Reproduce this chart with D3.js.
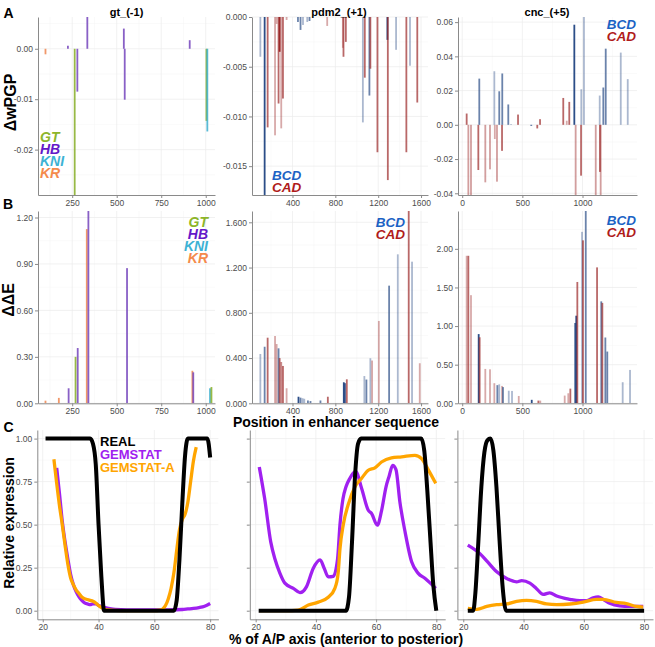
<!DOCTYPE html>
<html><head><meta charset="utf-8">
<script src="https://cdn.jsdelivr.net/npm/d3@7"></script>
<style>body{margin:0;background:#fff} svg{display:block} text{font-family:"Liberation Sans",Arial,sans-serif}</style>
</head><body><svg id="c" width="655" height="647"></svg>
<script>
// ---------------- DATA ----------------
// gt_(-1) : gap-gene factors
const gtWpgpPos = [100, 226, 264, 279, 335, 540, 545, 910, 1004, 1009];
const gtWpgpVal = [-0.0011, 0.0006, -0.0300, -0.0085, 0.0070, 0.0040, -0.0101, 0.0017, -0.0143, -0.0164];
const gtWpgpTF  = ["KR","HB","GT","HB","HB","HB","HB","HB","GT","KNI"];
const gtDdePos = [100, 175, 230, 269, 281, 332, 341, 558, 925, 930, 1024, 1032];
const gtDdeVal = [0.017, 0.035, 0.097, 0.30, 0.357, 1.125, 1.25, 0.873, 0.21, 0.20, 0.097, 0.105];
const gtDdeTF  = ["KR","KR","HB","GT","HB","KR","HB","HB","KR","HB","KNI","GT"];

// pdm2_(+1) : BCD / CAD
const pdmWpgpPos = [100,140,168,237,252,270,280,295,311,345,451,475,498,538,559,724,870,876,898,1057,1075,1118,1127,1193,1286,1290,1367,1463,1497,1565];
const pdmWpgpVal = [-0.0040,-0.0190,-0.0111,-0.0119,-0.0007,-0.0087,-0.0035,-0.0112,-0.0082,-0.0003,-0.0005,-0.0013,-0.0008,-0.0005,-0.0004,-0.0009,-0.0031,-0.0040,-0.0025,-0.0106,-0.0061,-0.0079,-0.0052,-0.0136,-0.0023,-0.0164,-0.0033,-0.0136,-0.0049,-0.0086];
const pdmWpgpTF  = ["BCD","BCD","CAD","CAD","CAD","CAD","CAD","CAD","CAD","CAD","BCD","BCD","BCD","BCD","BCD","CAD","CAD","CAD","CAD","BCD","CAD","BCD","CAD","CAD","BCD","CAD","BCD","CAD","BCD","CAD"];
const pdmWpgpStr = [0.4,1,0.7,0.4,0.4,0.7,1,0.4,0.7,0.4,0.7,0.7,0.4,0.4,0.7,0.4,0.4,0.7,0.7,0.4,0.7,0.7,0.7,0.7,1,0.7,0.4,0.7,0.4,0.7];
const pdmDdePos = [100,140,168,237,252,270,280,295,311,345,456,475,494,510,544,568,661,730,879,889,907,1071,1090,1127,1143,1206,1302,1383,1485,1516,1588];
const pdmDdeVal = [0.436,0.50,0.58,0.595,0.524,0.486,0.40,0.365,0.33,0.133,0.058,0.05,0.045,0.04,0.025,0.02,0.025,0.058,0.186,0.178,0.212,0.241,0.21,0.398,0.378,0.728,1.04,1.317,1.70,1.252,0.354];
const pdmDdeTF  = ["BCD","BCD","CAD","CAD","CAD","BCD","CAD","CAD","CAD","CAD","BCD","BCD","BCD","BCD","BCD","BCD","BCD","CAD","BCD","BCD","CAD","BCD","BCD","BCD","CAD","CAD","BCD","BCD","CAD","BCD","CAD"];
const pdmDdeStr = [0.4,0.7,0.7,0.4,0.4,0.7,0.7,0.55,0.7,0.4,1,0.7,0.4,0.4,0.7,0.7,0.7,0.7,1,1,0.7,0.4,0.7,0.4,0.4,0.4,0.7,0.4,0.7,0.4,0.4];

// cnc_(+5) : BCD / CAD
const cncWpgpPos = [37,51,73,134,142,192,231,267,271,289,308,331,333,383,406,464,574,624,647,840,869,890,932,943,988,990,1012,1110,1143,1145,1151,1173,1193,1318,1376];
const cncWpgpVal = [0.0066,-0.045,-0.045,-0.0264,0.027,-0.0336,-0.026,0.0313,-0.0083,-0.0332,0.0196,-0.0152,0.030,0.0119,0.0004,0.006,-0.0005,-0.0021,0.0033,0.0157,0.0024,0.0134,0.0585,-0.045,-0.0297,0.0208,0.066,-0.045,0.0171,-0.0275,-0.045,0.0218,0.0445,0.0422,0.0267];
const cncWpgpTF  = ["CAD","CAD","CAD","CAD","BCD","CAD","CAD","BCD","CAD","CAD","BCD","CAD","BCD","BCD","BCD","CAD","BCD","CAD","CAD","CAD","CAD","CAD","BCD","CAD","CAD","BCD","BCD","CAD","BCD","CAD","CAD","BCD","BCD","BCD","BCD"];
const cncWpgpStr = [0.7,0.45,0.45,0.7,0.7,0.45,0.45,0.4,0.4,0.45,0.7,0.7,0.7,0.7,0.4,0.7,1,0.7,0.7,0.7,0.4,0.7,1,0.45,0.7,0.4,0.4,0.45,0.4,0.7,0.45,0.7,0.7,0.4,0.4];
const cncDdePos = [37,51,73,137,145,192,231,267,292,308,331,339,387,414,470,578,633,649,852,882,899,940,948,957,996,1004,1027,1121,1156,1165,1190,1206,1334,1395];
const cncDdeVal = [1.91,1.91,1.40,0.896,0.855,0.445,0.44,0.26,0.235,0.245,0.225,0.21,0.163,0.16,0.095,0.045,0.035,0.035,0.10,0.13,0.19,1.04,1.134,1.571,2.22,2.11,2.50,1.76,1.32,1.30,0.852,0.67,0.273,0.432];
const cncDdeTF  = ["CAD","CAD","CAD","BCD","CAD","CAD","CAD","CAD","BCD","BCD","CAD","BCD","BCD","BCD","CAD","BCD","CAD","CAD","CAD","CAD","CAD","BCD","BCD","CAD","BCD","CAD","BCD","CAD","BCD","CAD","BCD","BCD","BCD","BCD"];
const cncDdeStr = [0.4,0.7,0.4,1,0.7,0.4,0.4,0.4,0.7,0.4,0.4,0.7,0.4,0.4,0.4,1,0.7,0.4,0.4,0.4,0.7,1,1,0.7,0.4,0.7,0.7,0.7,0.7,0.7,0.7,0.7,0.4,0.4];

// tick labels
const gtXTicks = [250, 500, 750, 1000];
const pdmXTicks = [400, 800, 1200, 1600];
const cncXTicks = [0, 500, 1000];
const gtWpgpYTicks = [0, -0.01, -0.02];           const gtWpgpYLabels = ["0.00","-0.01","-0.02"];
const pdmWpgpYTicks = [0, -0.005, -0.010, -0.015]; const pdmWpgpYLabels = ["0.000","-0.005","-0.010","-0.015"];
const cncWpgpYTicks = [0.06,0.04,0.02,0,-0.02,-0.04]; const cncWpgpYLabels = ["0.06","0.04","0.02","0.00","-0.02","-0.04"];
const gtDdeYTicks = [0,0.3,0.6,0.9,1.2];           const gtDdeYLabels = ["0.00","0.30","0.60","0.90","1.20"];
const pdmDdeYTicks = [0,0.4,0.8,1.2,1.6];          const pdmDdeYLabels = ["0.000","0.400","0.800","1.200","1.600"];
const cncDdeYTicks = [0,0.5,1,1.5,2];              const cncDdeYLabels = ["0.00","0.50","1.00","1.50","2.00"];
const apXTicks = [20, 40, 60, 80];
const exprYTicks = [0, 0.25, 0.5, 0.75, 1];        const exprYLabels = ["0.00","0.25","0.50","0.75","1.00"];

// expression profiles (% A/P axis, relative expression)
const gtRealX = [21,37,38,39,40,41,42,67,68,69,70,71,72,79,80];
const gtRealY = [1,1,0.97,0.85,0.5,0.2,0,0,0.06,0.3,0.62,0.9,1,1,0.89];
const gtGemX = [25,26,27,28,29,30,31,32,33,34,35,36,37,38,39,40,42,44,46,50,55,60,65,70,72,74,76,78,80];
const gtGemY = [0.83,0.68,0.52,0.4,0.3,0.21,0.15,0.11,0.08,0.06,0.045,0.04,0.035,0.04,0.04,0.03,0.02,0.012,0.007,0.005,0.005,0.005,0.005,0.007,0.01,0.013,0.018,0.026,0.042];
const gtGemAX = [24,25,26,27,28,29,30,31,32,33,34,35,36,37,38,39,40,41,42,44,46,50,55,60,62,63,64,65,66,67,68,69,70,71,72,73,74,75];
const gtGemAY = [0.88,0.74,0.61,0.5,0.38,0.27,0.19,0.15,0.12,0.1,0.08,0.07,0.065,0.06,0.055,0.045,0.03,0.018,0.01,0.004,0.002,0,0,0,0.003,0.01,0.03,0.07,0.13,0.22,0.35,0.47,0.53,0.56,0.63,0.75,0.87,0.95];

const pdmRealX = [21,50,51,52,53,54,55,75,76,77,78,79,80];
const pdmRealY = [0,0,0.08,0.4,0.78,0.97,1,1,0.93,0.7,0.42,0.15,0];
const pdmGemX = [21.2,23,25,26.4,28,29.7,32.5,34.7,36.9,39.1,41.4,42.8,44.1,45.8,47.2,48,49,50,51.3,52.4,53.2,55.2,57.4,58.5,60.4,61.8,63.3,64.3,65.5,66.6,67.9,69.6,71.8,74,76.2,78,79.8];
const pdmGemY = [0.835,0.65,0.40,0.30,0.22,0.16,0.13,0.105,0.14,0.245,0.295,0.245,0.197,0.2,0.3,0.5,0.65,0.72,0.77,0.80,0.81,0.71,0.584,0.565,0.497,0.58,0.72,0.78,0.845,0.82,0.632,0.46,0.284,0.217,0.188,0.16,0.13];
const pdmGemAX = [21.2,30,34.1,37.5,40.8,44.1,46.3,47.4,48,49.1,50.8,53,55.2,57.4,59.6,61.8,65.1,68.5,72.9,75.1,77.3,79.8];
const pdmGemAY = [0,0,0.003,0.033,0.05,0.078,0.13,0.22,0.36,0.50,0.62,0.72,0.77,0.816,0.83,0.864,0.888,0.894,0.903,0.884,0.82,0.74];

const cncRealX = [21.5,23.3,24,25,26,27,28,29,30,31,32,33,34.2,80];
const cncRealY = [0,0,0.1,0.4,0.72,0.92,0.99,1,0.93,0.72,0.42,0.15,0,0];
const cncGemX = [21.5,25.6,28,31.1,34.4,37.7,39.4,42.1,44.3,46.5,48.7,51,55.4,58.7,60.9,63.1,64.8,66.4,68.6,71.9,75.2,79.7];
const cncGemY = [0.381,0.33,0.285,0.226,0.187,0.168,0.175,0.16,0.128,0.095,0.104,0.085,0.066,0.058,0.058,0.075,0.08,0.066,0.043,0.028,0.025,0.025];
const cncGemAX = [21.5,24.5,27.8,31.1,34.4,37.7,41,44.3,47.6,51,55.4,59.8,64.2,66.4,70.8,74.1,77.4,79.7];
const cncGemAY = [0.014,0.008,0.025,0.035,0.039,0.054,0.06,0.054,0.039,0.035,0.039,0.05,0.066,0.066,0.048,0.041,0.025,0.021];

const gapFactors = ["GT","HB","KNI","KR"];
const tfFactors = ["BCD","CAD"];
const exprSeries = ["REAL","GEMSTAT","GEMSTAT-A"];
const enhancerNames = ["gt_(-1)","pdm2_(+1)","cnc_(+5)"];

// ---------------- STYLE ----------------
const GAP_BAR = {GT:"#86AD26", HB:"#7444BC", KNI:"#3CAFCF", KR:"#EE8650"};
const GAP_TXT = {GT:"#8DB52A", HB:"#6418C8", KNI:"#3DB2D4", KR:"#F48A4C"};
const TF_BAR = {BCD:"#2C4E88", CAD:"#9B2828"};
const TF_TXT = {BCD:"#1B62C4", CAD:"#B01B1B"};
const EXPR_COL = {"REAL":"#000000","GEMSTAT":"#A020F0","GEMSTAT-A":"#FFA500"};
const AXIS_COL = "#8a8a8a", TICK_TXT = "#4d4d4d";

const svg = d3.select("#c");
svg.append("rect").attr("width",655).attr("height",647).attr("fill","#fff");
const defs = svg.append("defs");

function minors(ticks, dom) {
  const lo = Math.min(...dom), hi = Math.max(...dom);
  const s = [...ticks].sort((a,b)=>a-b);
  const step = s[1]-s[0];
  const out = [];
  for (let v = s[0]-step/2; v <= s[s.length-1]+step/2 + 1e-9; v += step) if (v>=lo && v<=hi) out.push(v);
  return out;
}

let clipN = 0;
function frame(p) {
  const g = svg.append("g");
  const xs = d3.scaleLinear().domain(p.xdom).range([p.x0,p.x1]);
  const ys = d3.scaleLinear().domain(p.ydom).range([p.y1,p.y0]);
  const gx = minors(p.xt, p.xdom), gy = minors(p.yt, p.ydom);
  g.selectAll(null).data(gx).join("line").attr("x1",d=>xs(d)).attr("x2",d=>xs(d)).attr("y1",p.y0).attr("y2",p.y1).attr("stroke","#f4f4f4").attr("stroke-width",0.5);
  g.selectAll(null).data(gy).join("line").attr("y1",d=>ys(d)).attr("y2",d=>ys(d)).attr("x1",p.x0).attr("x2",p.x1).attr("stroke","#f4f4f4").attr("stroke-width",0.5);
  g.selectAll(null).data(p.xt).join("line").attr("x1",d=>xs(d)).attr("x2",d=>xs(d)).attr("y1",p.y0).attr("y2",p.y1).attr("stroke","#ebebeb").attr("stroke-width",0.7);
  g.selectAll(null).data(p.yt).join("line").attr("y1",d=>ys(d)).attr("y2",d=>ys(d)).attr("x1",p.x0).attr("x2",p.x1).attr("stroke","#ebebeb").attr("stroke-width",0.7);
  const id = "clip"+(clipN++);
  defs.append("clipPath").attr("id",id).append("rect").attr("x",p.x0).attr("y",p.y0).attr("width",p.x1-p.x0).attr("height",p.y1-p.y0);
  const plot = svg.append("g").attr("clip-path",`url(#${id})`);
  const drawAxes = () => {
    const ax = svg.append("g").attr("transform",`translate(0,${p.y1})`)
      .call(d3.axisBottom(xs).tickValues(p.xt).tickFormat(d3.format("d")).tickSize(3).tickSizeOuter(0).tickPadding(1.5));
    const ay = svg.append("g").attr("transform",`translate(${p.x0},0)`)
      .call(d3.axisLeft(ys).tickValues(p.yt).tickFormat((d,i)=>p.yl ? p.yl[i] : "").tickSize(3).tickSizeOuter(0).tickPadding(2));
    [ax,ay].forEach(a=>{
      a.select(".domain").attr("stroke",AXIS_COL).attr("stroke-width",1);
      a.selectAll(".tick line").attr("stroke",AXIS_COL);
      a.selectAll(".tick text").attr("fill",TICK_TXT).style("font-size","8.5px").style("font-family",'"Liberation Sans",Arial,sans-serif');
    });
  };
  return {xs, ys, plot, drawAxes};
}

function bars(p, pos, val, fac, str, colorOf) {
  const f = frame(p);
  const data = pos.map((x,i)=>({x, v:val[i], f:fac[i], s: str ? str[i] : 0.85}));
  f.plot.selectAll(null).data(data).join("rect")
    .attr("x",d=>f.xs(d.x)-0.9).attr("width",1.8)
    .attr("y",d=>Math.min(f.ys(0),f.ys(d.v))).attr("height",d=>Math.abs(f.ys(d.v)-f.ys(0)))
    .attr("fill",d=>colorOf[d.f]).attr("fill-opacity",d=>d.s);
  f.drawAxes();
  return f;
}

// layout
const colAB = [[38,215],[252,428],[458,637]];
const rowA = [17,195], rowB = [211,403.3];
const xdomAB = [[58,1052],[22,1665],[-35,1453]];
const colC = [[37.3,218.4],[249.8,445.2],[457.4,653]];
const rowC = [430,619.3];

function P(col, row, xdom, ydom, xt, yt, yl, cols) {
  return {x0:cols[col][0], x1:cols[col][1], y0:row[0], y1:row[1], xdom, ydom, xt, yt, yl};
}

// Row A
bars(P(0,rowA,xdomAB[0],[-0.029,0.0063],gtXTicks,gtWpgpYTicks,gtWpgpYLabels,colAB), gtWpgpPos, gtWpgpVal, gtWpgpTF, null, GAP_BAR);
bars(P(1,rowA,xdomAB[1],[-0.0179,0],pdmXTicks,pdmWpgpYTicks,pdmWpgpYLabels,colAB), pdmWpgpPos, pdmWpgpVal, pdmWpgpTF, pdmWpgpStr, TF_BAR);
bars(P(2,rowA,xdomAB[2],[-0.041,0.063],cncXTicks,cncWpgpYTicks,cncWpgpYLabels,colAB), cncWpgpPos, cncWpgpVal, cncWpgpTF, cncWpgpStr, TF_BAR);
// Row B
bars(P(0,rowB,xdomAB[0],[0,1.242],gtXTicks,gtDdeYTicks,gtDdeYLabels,colAB), gtDdePos, gtDdeVal, gtDdeTF, null, GAP_BAR);
bars(P(1,rowB,xdomAB[1],[0,1.70],pdmXTicks,pdmDdeYTicks,pdmDdeYLabels,colAB), pdmDdePos, pdmDdeVal, pdmDdeTF, pdmDdeStr, TF_BAR);
bars(P(2,rowB,xdomAB[2],[0,2.49],cncXTicks,cncDdeYTicks,cncDdeYLabels,colAB), cncDdePos, cncDdeVal, cncDdeTF, cncDdeStr, TF_BAR);

// Row C
const exprSets = [
  [[gtGemX,gtGemY],[gtGemAX,gtGemAY],[gtRealX,gtRealY]],
  [[pdmGemX,pdmGemY],[pdmGemAX,pdmGemAY],[pdmRealX,pdmRealY]],
  [[cncGemX,cncGemY],[cncGemAX,cncGemAY],[cncRealX,cncRealY]]
];
const drawOrder = ["GEMSTAT","GEMSTAT-A","REAL"];
exprSets.forEach((set, ci) => {
  const f = frame(P(ci,rowC,[18.05,82.95],[-0.05,1.05],apXTicks,exprYTicks,ci===0?exprYLabels:null,colC));
  f.drawAxes();
  const line = d3.line().x(d=>f.xs(d[0])).y(d=>f.ys(d[1])).curve(d3.curveMonotoneX);
  set.forEach((s, si) => {
    const name = drawOrder[si];
    const pts = s[0].map((x,i)=>[x, s[1][i]]);
    svg.append("path").attr("d",line(pts)).attr("fill","none")
      .attr("stroke",EXPR_COL[name]).attr("stroke-width", name==="REAL"?4:3.3)
      .attr("stroke-linejoin","round").attr("stroke-linecap","butt");
  });
});

// ---------------- TEXT ----------------
function txt(x,y,s,opt={}) {
  const t = svg.append("text").attr("x",x).attr("y",y).text(s)
    .style("font-size",(opt.size||12)+"px").style("font-weight",opt.weight||"bold")
    .attr("fill",opt.fill||"#000").attr("text-anchor",opt.anchor||"start");
  if (opt.italic) t.style("font-style","italic");
  if (opt.rot) t.attr("transform",`rotate(-90,${x},${y})`);
  return t;
}
const titleX = [126.5, 339, 547];
enhancerNames.forEach((n,i)=>txt(titleX[i],16,n,{size:11,anchor:"middle"}));
txt(8.5,17.5,"A",{size:14,anchor:"middle"});
txt(8,209,"B",{size:14,anchor:"middle"});
txt(8.5,431.5,"C",{size:14,anchor:"middle"});
txt(15.5,102.5,"ΔwPGP",{size:16,anchor:"middle",rot:true});
txt(14,300,"ΔΔE",{size:16,anchor:"middle",rot:true});
txt(14,523,"Relative expression",{size:14,anchor:"middle",rot:true});
txt(336,427,"Position in enhancer sequence",{size:14,anchor:"middle"});
txt(346,644,"% of A/P axis (anterior to posterior)",{size:14,anchor:"middle"});

gapFactors.forEach((f,i)=>txt(40,141.5+i*12,f,{size:14,italic:true,fill:GAP_TXT[f]}));
gapFactors.forEach((f,i)=>txt(208,226.5+i*12,f,{size:14,italic:true,fill:GAP_TXT[f],anchor:"end"}));
tfFactors.forEach((f,i)=>txt(272,180+i*11.5,f,{size:13.5,italic:true,fill:TF_TXT[f]}));
tfFactors.forEach((f,i)=>txt(405,226.5+i*12.5,f,{size:13.5,italic:true,fill:TF_TXT[f],anchor:"end"}));
tfFactors.forEach((f,i)=>txt(636,29+i*12,f,{size:13.5,italic:true,fill:TF_TXT[f],anchor:"end"}));
tfFactors.forEach((f,i)=>txt(636,225+i*12.3,f,{size:13.5,italic:true,fill:TF_TXT[f],anchor:"end"}));
exprSeries.forEach((s,i)=>txt(100,446+i*13,s,{size:13,fill:EXPR_COL[s]}));
</script>
</body></html>
